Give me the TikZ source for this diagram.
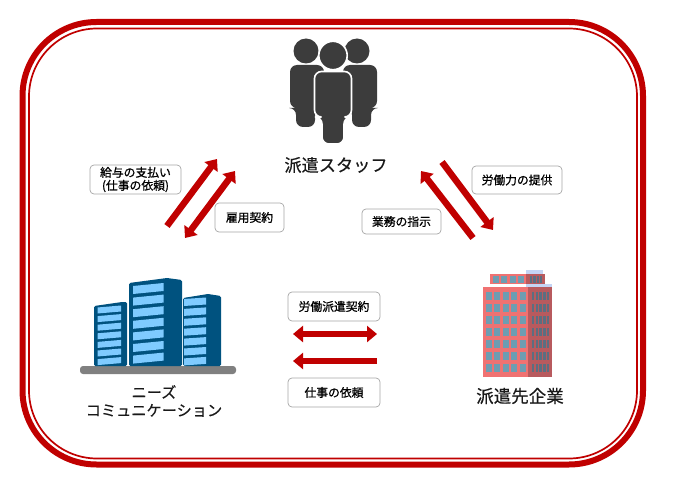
\documentclass[tikz,border=0pt]{standalone}
\usepackage{fontspec}
\setmainfont[FakeBold=0.35]{Noto Sans CJK JP}
\newfontfamily\boxfont[FakeBold=0.9]{Noto Sans CJK JP}
\usetikzlibrary{arrows.meta}

\definecolor{framered}{HTML}{C00000}
\definecolor{figgray}{HTML}{3C3C3C}
\definecolor{blddark}{HTML}{00527F}
\definecolor{bldlight}{HTML}{7FCBFF}
\definecolor{redfront}{HTML}{F07272}
\definecolor{redside}{HTML}{B85A5E}
\definecolor{redwin}{HTML}{6E9DB2}
\definecolor{redwinside}{HTML}{5C6E80}
\definecolor{redtop}{HTML}{C4D4F4}

\begin{document}
\begin{tikzpicture}[x=1pt,y=-1pt]
\tikzstyle{every node}=[inner sep=0pt]
\tikzstyle{infobox}=[draw=gray!70,fill=white,rounded corners=4pt,line width=.7pt,
  align=center,font=\fontsize{11.8}{13}\selectfont\boxfont]
\tikzstyle{caption}=[align=center,text=black!90]
\tikzstyle{flow}=[draw=framered,line width=6.5pt,
  -{Triangle[length=10pt,width=16pt]}]
\tikzstyle{flowboth}=[draw=framered,line width=6.5pt,
  {Triangle[length=10pt,width=16pt]}-{Triangle[length=10pt,width=16pt]}]
\tikzstyle{person}=[fill=figgray]

\useasboundingbox (0,0) rectangle (674,497);

%% Draw red frame
\draw [framered,line width=6pt,rounded corners=74pt] (22.5,22) rectangle (643,464.5);
\draw [framered,line width=1.7pt,rounded corners=68pt] (29,28.5) rectangle (637,458.5);

%% Draw staff
\foreach \px in {306,357} {
    \fill [person] (\px,51) circle (12.5);
}
\fill [person,rounded corners=7pt] (290,65) -- (324,65) -- (324,108) -- (315,108)
    -- (315,127) -- (296,127) -- (296,108) -- (290,108) -- cycle;
\fill [person,rounded corners=7pt] (343,65) -- (377,65) -- (377,108) -- (371,108)
    -- (371,127) -- (352,127) -- (352,108) -- (343,108) -- cycle;
\draw [person,draw=white,line width=1.6pt] (333,55.5) circle (14.2);
\draw [person,draw=white,line width=1.6pt,rounded corners=7pt] (314.5,71.5) -- (351.5,71.5)
    -- (351.5,117) -- (344,117) -- (344,144) -- (322,144) -- (322,117) -- (314.5,117) -- cycle;

%% Draw left building group
\fill [gray,rounded corners=3pt] (80,366) rectangle (236,374);
\fill [blddark,rounded corners=1.5pt] (94,366) -- (94,306) -- (122,302) -- (127,302) -- (127,366) -- cycle;
\fill [blddark,rounded corners=1.5pt] (129,366) -- (129,283) -- (167,278) -- (182,280) -- (182,366) -- cycle;
\fill [blddark,rounded corners=1.5pt] (183,366) -- (183,298) -- (208,294) -- (221,296) -- (221,366) -- cycle;
\foreach \i in {0,...,6} {
    \fill [bldlight] (97.5,307.5+8.6*\i) -- (121,305.5+8.6*\i) -- (121,311.5+8.6*\i) -- (97.5,313.5+8.6*\i) -- cycle;
    \fill [bldlight] (133,286+11.6*\i) -- (163.5,283+11.6*\i) -- (163.5,291+11.6*\i) -- (133,294+11.6*\i) -- cycle;
    \fill [bldlight] (184,299+9.9*\i) -- (206,297.5+9.9*\i) -- (206,304.5+9.9*\i) -- (184,306+9.9*\i) -- cycle;
}

%% Draw red building
\fill [redtop] (526,270) rectangle (543,275);
\fill [redtop] (526,284) rectangle (552,288);
\fill [redfront] (490,274) rectangle (526,284);
\fill [redside] (526,274) rectangle (545,284);
\fill [redfront] (483,287) rectangle (528,377);
\fill [redside] (528,287) rectangle (552,377);
\foreach \wx in {0,...,3} {
    \fill [redwin] (492.5+8.5*\wx,275.5) rectangle +(6,7);
    \fill [redwinside] (530+3.4*\wx,275.5) rectangle +(2.2,7);
}
\foreach \wy in {0,...,6} {
    \foreach \wx in {0,...,4} {
        \fill [redwin] (485.5+8.6*\wx,292+12.05*\wy) rectangle +(6,8);
    }
    \foreach \wx in {0,...,4} {
        \fill [redwinside] (532+3.7*\wx,292+12.05*\wy) rectangle +(2.4,8);
    }
}

%% Draw captions
\node [caption,font=\fontsize{17.2}{20}\selectfont] at (336,165) (staff) {派遣スタッフ};
\node [caption,font=\fontsize{15.2}{18}\selectfont] at (154,401) (needs) {ニーズ\\コミュニケーション};
\node [caption,font=\fontsize{17.5}{20}\selectfont] at (520,396) (client) {派遣先企業};

%% Draw label boxes
\node [infobox,minimum width=91pt,minimum height=29pt] at (135.5,179.5) (pay) {給与の支払い\\(仕事の依頼)};
\node [infobox,minimum width=69pt,minimum height=29pt] at (249.5,217.5) (hire) {雇用契約};
\node [infobox,minimum width=90pt,minimum height=28pt] at (517,180) (labor) {労働力の提供};
\node [infobox,minimum width=79pt,minimum height=25pt] at (401.5,221.5) (order) {業務の指示};
\node [infobox,minimum width=92pt,minimum height=29pt] at (334,306.5) (dispatch) {労働派遣契約};
\node [infobox,minimum width=92pt,minimum height=29pt] at (334,392.5) (request) {仕事の依頼};

%% Draw arrows
\coordinate (payfrom) at (167,226);
\coordinate (payto) at (217,159);
\coordinate (hirefrom) at (235,171);
\coordinate (hireto) at (185,238);
\coordinate (laborfrom) at (442,162);
\coordinate (laborto) at (493,230);
\coordinate (orderfrom) at (473,238);
\coordinate (orderto) at (421,171);
\coordinate (dispatchfrom) at (293,334);
\coordinate (dispatchto) at (377,334);
\coordinate (requestfrom) at (377,361);
\coordinate (requestto) at (293,361);

\draw [flow] (payfrom) -- (payto);
\draw [flowboth] (hirefrom) -- (hireto);
\draw [flow] (laborfrom) -- (laborto);
\draw [flow] (orderfrom) -- (orderto);
\draw [flowboth] (dispatchfrom) -- (dispatchto);
\draw [flow] (requestfrom) -- (requestto);
\end{tikzpicture}
\end{document}
